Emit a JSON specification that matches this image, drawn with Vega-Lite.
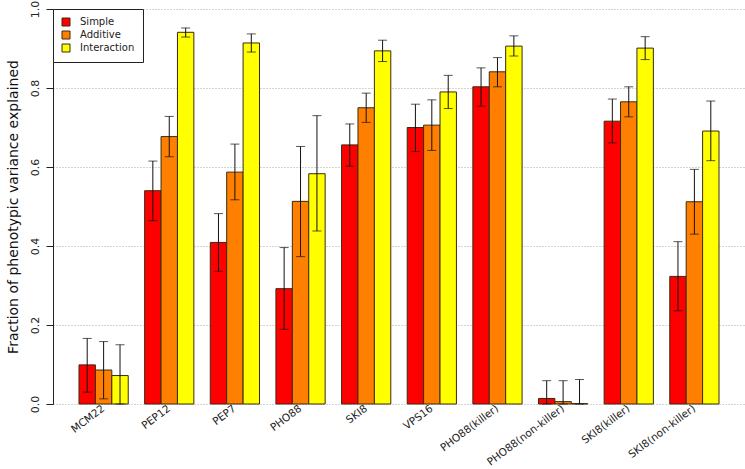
{
  "$schema": "https://vega.github.io/schema/vega-lite/v6.json",
  "width": 692,
  "height": 395,
  "autosize": {"type": "none"},
  "padding": {"left": 53, "top": 9, "right": 0, "bottom": 65},
  "background": "white",
  "config": {
    "font": "DejaVu Sans",
    "view": {"stroke": null},
    "axis": {"labelFont": "DejaVu Sans", "titleFont": "DejaVu Sans"}
  },
  "data": {
    "values": [
      {"gene": "MCM22", "model": "Simple", "value": 0.099, "lo": 0.030, "hi": 0.166},
      {"gene": "MCM22", "model": "Additive", "value": 0.086, "lo": 0.013, "hi": 0.158},
      {"gene": "MCM22", "model": "Interaction", "value": 0.072, "lo": 0.0, "hi": 0.150},
      {"gene": "PEP12", "model": "Simple", "value": 0.540, "lo": 0.464, "hi": 0.615},
      {"gene": "PEP12", "model": "Additive", "value": 0.677, "lo": 0.626, "hi": 0.728},
      {"gene": "PEP12", "model": "Interaction", "value": 0.941, "lo": 0.929, "hi": 0.952},
      {"gene": "PEP7", "model": "Simple", "value": 0.409, "lo": 0.336, "hi": 0.482},
      {"gene": "PEP7", "model": "Additive", "value": 0.587, "lo": 0.517, "hi": 0.658},
      {"gene": "PEP7", "model": "Interaction", "value": 0.914, "lo": 0.891, "hi": 0.937},
      {"gene": "PHO88", "model": "Simple", "value": 0.292, "lo": 0.189, "hi": 0.396},
      {"gene": "PHO88", "model": "Additive", "value": 0.513, "lo": 0.373, "hi": 0.652},
      {"gene": "PHO88", "model": "Interaction", "value": 0.583, "lo": 0.438, "hi": 0.730},
      {"gene": "SKI8", "model": "Simple", "value": 0.656, "lo": 0.602, "hi": 0.709},
      {"gene": "SKI8", "model": "Additive", "value": 0.750, "lo": 0.713, "hi": 0.787},
      {"gene": "SKI8", "model": "Interaction", "value": 0.894, "lo": 0.867, "hi": 0.921},
      {"gene": "VPS16", "model": "Simple", "value": 0.700, "lo": 0.639, "hi": 0.759},
      {"gene": "VPS16", "model": "Additive", "value": 0.706, "lo": 0.642, "hi": 0.770},
      {"gene": "VPS16", "model": "Interaction", "value": 0.790, "lo": 0.748, "hi": 0.832},
      {"gene": "PHO88(killer)", "model": "Simple", "value": 0.803, "lo": 0.754, "hi": 0.851},
      {"gene": "PHO88(killer)", "model": "Additive", "value": 0.841, "lo": 0.803, "hi": 0.877},
      {"gene": "PHO88(killer)", "model": "Interaction", "value": 0.906, "lo": 0.881, "hi": 0.932},
      {"gene": "PHO88(non-killer)", "model": "Simple", "value": 0.014, "lo": 0.0, "hi": 0.059},
      {"gene": "PHO88(non-killer)", "model": "Additive", "value": 0.006, "lo": 0.0, "hi": 0.059},
      {"gene": "PHO88(non-killer)", "model": "Interaction", "value": 0.001, "lo": 0.0, "hi": 0.062},
      {"gene": "SKI8(killer)", "model": "Simple", "value": 0.716, "lo": 0.661, "hi": 0.772},
      {"gene": "SKI8(killer)", "model": "Additive", "value": 0.765, "lo": 0.727, "hi": 0.803},
      {"gene": "SKI8(killer)", "model": "Interaction", "value": 0.901, "lo": 0.872, "hi": 0.930},
      {"gene": "SKI8(non-killer)", "model": "Simple", "value": 0.323, "lo": 0.236, "hi": 0.411},
      {"gene": "SKI8(non-killer)", "model": "Additive", "value": 0.512, "lo": 0.430, "hi": 0.594},
      {"gene": "SKI8(non-killer)", "model": "Interaction", "value": 0.691, "lo": 0.616, "hi": 0.767}
    ]
  },
  "encoding": {
    "x": {
      "field": "gene",
      "type": "nominal",
      "sort": null,
      "scale": {"paddingInner": 0.25, "paddingOuter": 0.396},
      "axis": {
        "title": null,
        "labelAngle": -37,
        "labelAlign": "right",
        "labelBaseline": "middle",
        "labelPadding": 3,
        "labelFontSize": 10.5,
        "labelColor": "#222",
        "domain": false,
        "ticks": false,
        "grid": false
      }
    },
    "xOffset": {
      "field": "model",
      "type": "nominal",
      "sort": ["Simple", "Additive", "Interaction"],
      "scale": {"paddingInner": 0, "paddingOuter": 0}
    }
  },
  "layer": [
    {
      "mark": {"type": "bar", "stroke": "#3a2a10", "strokeWidth": 1},
      "encoding": {
        "y": {
          "field": "value",
          "type": "quantitative",
          "scale": {"domain": [0, 1], "nice": false, "zero": true},
          "axis": {
            "title": "Fraction of phenotypic variance explained",
            "titleFontSize": 14,
            "titleFontWeight": "normal",
            "titleColor": "#111",
            "titlePadding": 9,
            "values": [0, 0.2, 0.4, 0.6, 0.8, 1.0],
            "format": ".1f",
            "labelAngle": -90,
            "labelAlign": "center",
            "labelBaseline": "bottom",
            "labelPadding": 6,
            "labelFontSize": 11,
            "labelColor": "#222",
            "domain": true,
            "domainColor": "#222",
            "tickColor": "#222",
            "tickSize": 7,
            "grid": true,
            "gridColor": "#a8a8a8",
            "gridDash": [1, 2],
            "gridWidth": 1
          }
        },
        "fill": {
          "field": "model",
          "type": "nominal",
          "sort": ["Simple", "Additive", "Interaction"],
          "scale": {"domain": ["Simple", "Additive", "Interaction"], "range": ["#FF0000", "#FF8000", "#FFFF00"]},
          "legend": {
            "title": null,
            "orient": "none",
            "legendX": 0,
            "legendY": 0,
            "strokeColor": "#222",
            "fillColor": "white",
            "padding": 8,
            "symbolType": "square",
            "symbolSize": 64,
            "symbolStrokeColor": "#3a2a10",
            "symbolStrokeWidth": 1,
            "labelFontSize": 10,
            "labelColor": "#222",
            "labelOffset": 9,
            "rowPadding": 1,
            "offset": 0
          }
        }
      }
    },
    {
      "mark": {"type": "rule", "color": "#111", "strokeWidth": 1},
      "encoding": {
        "y": {"field": "lo", "type": "quantitative"},
        "y2": {"field": "hi"}
      }
    },
    {
      "mark": {"type": "tick", "color": "#111", "thickness": 1, "size": 9, "orient": "horizontal"},
      "encoding": {
        "y": {"field": "lo", "type": "quantitative"}
      }
    },
    {
      "mark": {"type": "tick", "color": "#111", "thickness": 1, "size": 9, "orient": "horizontal"},
      "encoding": {
        "y": {"field": "hi", "type": "quantitative"}
      }
    }
  ]
}
